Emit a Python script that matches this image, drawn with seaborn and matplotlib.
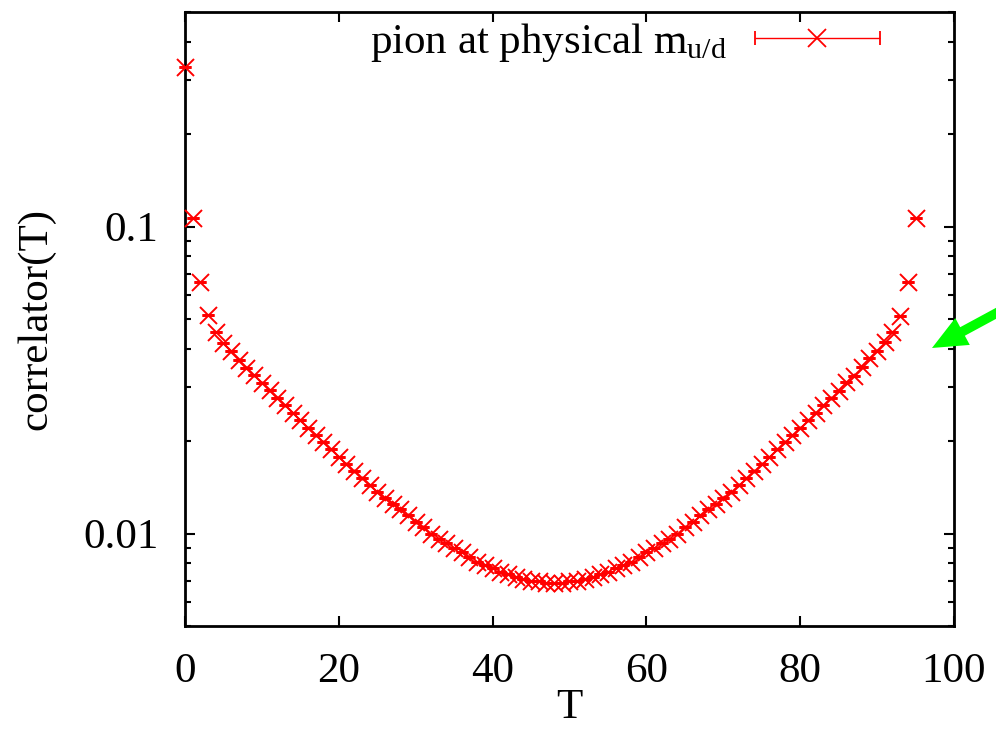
import numpy as np
import pandas as pd
import matplotlib
matplotlib.use("Agg")
import matplotlib.pyplot as plt
import seaborn as sns
from matplotlib.container import ErrorbarContainer
from matplotlib.legend_handler import HandlerErrorbar

# correlator values, T = 0..48
corr_left = [0.332, 0.107, 0.0658, 0.0516, 0.0453, 0.0419, 0.0393, 0.0369, 0.0347, 0.0328,
             0.0310, 0.0293, 0.0277, 0.0262, 0.0247, 0.0234, 0.0221, 0.0210, 0.0199, 0.0188,
             0.0178, 0.0169, 0.0160, 0.0152, 0.0144, 0.0137, 0.0131, 0.0125, 0.0120, 0.0115,
             0.0109, 0.0105, 0.0100, 0.0096, 0.0093, 0.0090, 0.0087, 0.0084, 0.0081, 0.0079,
             0.0077, 0.0075, 0.0074, 0.0072, 0.0071, 0.0070, 0.0070, 0.0069, 0.0069]
# T = 49..95
corr_right = [0.0069, 0.0070, 0.0070, 0.0071, 0.0072, 0.0074, 0.0075, 0.0077, 0.0079, 0.0081,
              0.0084, 0.0087, 0.0090, 0.0093, 0.0096, 0.0100, 0.0105, 0.0109, 0.0115, 0.0120,
              0.0125, 0.0131, 0.0137, 0.0144, 0.0152, 0.0160, 0.0169, 0.0178, 0.0188, 0.0199,
              0.0210, 0.0221, 0.0234, 0.0247, 0.0262, 0.0277, 0.0292, 0.0311, 0.0327, 0.0348,
              0.0372, 0.0393, 0.0420, 0.0455, 0.0513, 0.0658, 0.107]
x_ticks = [0, 20, 40, 60, 80, 100]
y_ticks = [0.01, 0.1]
y_ticklabels = ["0.01", "0.1"]
label = r"pion at physical m$_{\mathregular{u/d}}$"

df = pd.DataFrame({"T": np.arange(len(corr_left) + len(corr_right)),
                   "corr": corr_left + corr_right})

sns.set_theme(style="ticks")
plt.rcParams["font.family"] = ["Liberation Serif", "DejaVu Serif"]
plt.rcParams["mathtext.fontset"] = "custom"
plt.rcParams["mathtext.rm"] = "Liberation Serif"
plt.rcParams["mathtext.it"] = "Liberation Serif:italic"
for key in ["text.color", "axes.labelcolor", "xtick.color", "ytick.color", "axes.edgecolor"]:
    plt.rcParams[key] = "black"

fig = plt.figure(figsize=(9.96, 7.31), dpi=100)
ax = fig.add_axes([0.1857, 0.1436, 0.7721, 0.8400])
red = "#ff0000"

sns.scatterplot(data=df, x="T", y="corr", marker="x", s=150, color=red,
                linewidth=1.4, ax=ax, clip_on=False, zorder=3)
# tiny error bars: only the caps show
ax.errorbar(df["T"], df["corr"], yerr=0, fmt="none", ecolor=red,
            elinewidth=1.0, capsize=4, capthick=2.0, clip_on=False, zorder=4)

ax.set_yscale("log")
ax.set_xlim(0, 100)
ax.set_ylim(0.005, 0.5)
ax.set_xticks(x_ticks)
ax.set_xticklabels([str(t) for t in x_ticks])
ax.set_yticks(y_ticks)
ax.set_yticklabels(y_ticklabels)
ax.yaxis.set_minor_formatter(matplotlib.ticker.NullFormatter())
ax.xaxis.set_minor_locator(matplotlib.ticker.NullLocator())

ax.tick_params(which="both", direction="in", top=True, right=True,
               labelsize=31, pad=19, width=1.5, color="black", labelcolor="black")
ax.tick_params(which="major", length=7.5)
ax.tick_params(which="minor", length=4)
for sp in ax.spines.values():
    sp.set_linewidth(2.0)
    sp.set_color("black")
    sp.set_visible(True)

ax.set_xlabel("T", fontsize=31, labelpad=-2, color="black")
ax.set_ylabel("correlator(T)", fontsize=31, labelpad=20, color="black")

# legend proxy with horizontal error bar, gnuplot style
proxy = ax.errorbar([np.nan], [np.nan], xerr=[1.0], fmt="x", color=red,
                    markersize=13, markeredgewidth=1.3, elinewidth=1.0,
                    capsize=5.0, capthick=1.0)
leg = ax.legend([proxy], [label], loc="center right", bbox_to_anchor=(0.9285, 0.9495),
                borderaxespad=0, frameon=False, markerfirst=False, fontsize=31,
                handlelength=3.0, handletextpad=0.6,
                handler_map={ErrorbarContainer: HandlerErrorbar(xerr_size=1.45)})
for t in leg.get_texts():
    t.set_color("black")

# green arrow coming in from the right
ax.annotate("", xy=(0.9714, 0.4528), xycoords="axes fraction",
            xytext=(1.14, 0.567), textcoords="axes fraction",
            annotation_clip=False,
            arrowprops=dict(facecolor="#00ff00", edgecolor="none", width=7,
                            headwidth=22, headlength=25, shrink=0))

fig.savefig("out.png", dpi=100)
